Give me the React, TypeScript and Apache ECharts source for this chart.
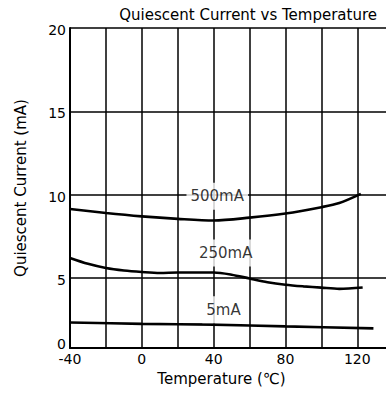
import React, { useEffect, useRef } from "react";
import * as echarts from "echarts";

// ---- data ----
const temps500 = [-40, -20, 0, 20, 40, 60, 80, 100, 110, 122];
const vals500 = [9.14, 8.9, 8.7, 8.55, 8.45, 8.62, 8.87, 9.25, 9.5, 10.05];

const temps250 = [-40, -30, -20, -10, 0, 10, 20, 40, 50, 60, 70, 80, 90, 100, 110, 123];
const vals250 = [6.2, 5.85, 5.6, 5.45, 5.36, 5.3, 5.33, 5.33, 5.2, 4.97, 4.75, 4.6, 4.5, 4.42, 4.35, 4.43];

const temps5 = [-40, 0, 40, 80, 129];
const vals5 = [2.33, 2.25, 2.2, 2.1, 1.98];

const curveNames = ["500mA", "250mA", "5mA"];
const labelXs = [42, 46.7, 45.5];
const labelYs = [9.9, 6.5, 3.1];

const xTickLabels = [-40, 0, 40, 80, 120];
const xGridValues = [-20, 0, 20, 40, 60, 80, 100, 120];
const yTickValues = [0, 5, 10, 15, 20];
const yGridValues = [5, 10, 15, 20];

// the printed chart's bottom band (0..5) is compressed; its "0" sits at this value of the 5..20 scale
const Y_AXIS_BOTTOM = 0.8;
const X_MIN = -40;
const X_MAX = 136;
const Y_MAX = 20;

const FONT = "DejaVu Sans";

const zip = (xs: number[], ys: number[]) => xs.map((x, i) => [x, ys[i]]);

export default function App() {
  const ref = useRef<HTMLDivElement>(null);
  useEffect(() => {
    if (!ref.current) return;
    const chart = echarts.init(ref.current, null, { renderer: "svg" });
    const yLabelVals = yTickValues.map((v) => (v === 0 ? Y_AXIS_BOTTOM : v));
    const curveStyle = { color: "#000", width: 2.6 };
    chart.setOption({
      animation: false,
      backgroundColor: "#fff",
      title: {
        text: "Quiescent Current vs Temperature",
        right: 9,
        top: 7,
        padding: 0,
        textStyle: { fontFamily: FONT, fontSize: 15, fontWeight: "normal", color: "#000" },
      },
      grid: { left: 70, top: 28, right: 0, bottom: 46, containLabel: false },
      xAxis: {
        type: "value",
        min: X_MIN,
        max: X_MAX,
        name: "Temperature (℃)",
        nameLocation: "middle",
        nameGap: 23,
        nameTextStyle: { fontFamily: FONT, fontSize: 15, color: "#000", padding: [0, 13, 0, 0] },
        axisLine: { show: true, onZero: false, lineStyle: { color: "#000", width: 2 } },
        axisTick: { show: false },
        splitLine: { show: false },
        axisLabel: {
          customValues: xTickLabels,
          fontFamily: FONT,
          fontSize: 14,
          color: "#000",
          margin: 4,
        },
      },
      yAxis: {
        type: "value",
        min: Y_AXIS_BOTTOM,
        max: Y_MAX,
        name: "Quiescent Current (mA)",
        nameLocation: "middle",
        nameGap: 42,
        nameTextStyle: { fontFamily: FONT, fontSize: 15, color: "#000" },
        axisLine: { show: true, onZero: false, lineStyle: { color: "#000", width: 2 } },
        axisTick: { show: false },
        splitLine: { show: false },
        axisLabel: {
          customValues: yLabelVals,
          formatter: (v: number) => {
            const i = yLabelVals.indexOf(v);
            const t = String(i >= 0 ? yTickValues[i] : v);
            return i === 0 ? `{low|${t}}` : `{n|${t}}`;
          },
          rich: {
            low: { fontFamily: FONT, fontSize: 14, color: "#000", padding: [0, 0, 9, 0] },
            n: { fontFamily: FONT, fontSize: 14, color: "#000", padding: [4, 0, 0, 0] },
          },
          fontFamily: FONT,
          fontSize: 14,
          color: "#000",
          margin: 4,
        },
      },
      series: [
        {
          type: "line",
          name: "5mA",
          data: zip(temps5, vals5),
          showSymbol: false,
          smooth: 0.3,
          lineStyle: curveStyle,
          z: 3,
          markLine: {
            silent: true,
            symbol: ["none", "none"],
            label: { show: false },
            lineStyle: { color: "#000", width: 1.5, type: "solid" },
            emphasis: { disabled: true },
            data: [
              ...yGridValues.map((v) => ({ yAxis: v })),
              ...xGridValues.map((v) => ({ xAxis: v })),
            ],
          },
        },
        {
          type: "line",
          name: "250mA",
          data: zip(temps250, vals250),
          showSymbol: false,
          smooth: 0.3,
          lineStyle: curveStyle,
          z: 3,
        },
        {
          type: "line",
          name: "500mA",
          data: zip(temps500, vals500),
          showSymbol: false,
          smooth: 0.3,
          lineStyle: curveStyle,
          z: 3,
        },
        {
          type: "scatter",
          name: "labels",
          data: zip(labelXs, labelYs),
          symbolSize: 0,
          z: 10,
          silent: true,
          label: {
            show: true,
            position: "inside",
            formatter: (p: any) => curveNames[p.dataIndex],
            fontFamily: FONT,
            fontSize: 15,
            color: "#000",
            backgroundColor: "#fff",
            padding: [6, 4],
          },
        },
      ],
    });
    return () => chart.dispose();
  }, []);
  return (
    <div
      ref={ref}
      style={{ position: "absolute", left: 0, top: 0, width: 386, height: 394, background: "#fff" }}
    />
  );
}
